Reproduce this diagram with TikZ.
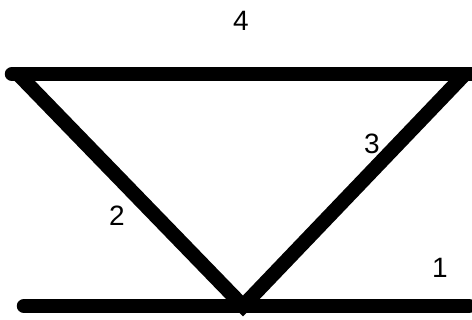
\documentclass[tikz,border=0pt]{standalone}
\usepackage{fontspec}
\setmainfont{Liberation Sans}
\begin{document}
\begin{tikzpicture}[x=1pt,y=-1pt,
  bar/.style={line width=14.5pt},
  lbl/.style={font=\fontsize{28}{28}\selectfont, inner sep=0pt}]
\useasboundingbox (0,0) rectangle (472,320);
\coordinate (tl) at (12,74);
\coordinate (tr) at (476,74);
\coordinate (bl) at (24,306);
\coordinate (br) at (469,306);
\coordinate (apex) at (243,306);
\coordinate (tld) at (18,74);
\coordinate (trd) at (465,74);
\draw[bar, line cap=round] (tl) -- (tr);
\draw[bar, line cap=round] (bl) -- (br);
\draw[bar] (tld) -- (apex) -- (trd);
\node[lbl] (n4) at (241,21) {4};
\node[lbl] (n3) at (372,144) {3};
\node[lbl] (n2) at (117,216) {2};
\node[lbl] (n1) at (440,268) {1};
\end{tikzpicture}
\end{document}
